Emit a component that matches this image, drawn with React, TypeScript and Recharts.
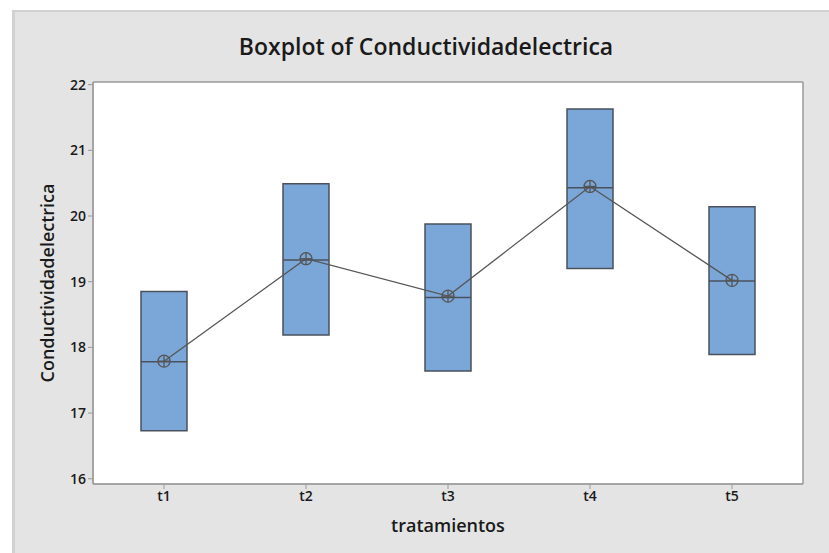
import React from 'react';
import { ComposedChart, Bar, Line, XAxis, YAxis, CartesianGrid } from 'recharts';

const categories = ['t1', 't2', 't3', 't4', 't5'];
const q1Values = [16.73, 18.19, 17.64, 19.2, 17.89];
const q3Values = [18.85, 20.49, 19.88, 21.63, 20.14];
const medianValues = [17.78, 19.33, 18.76, 20.43, 19.01];
const meanValues = [17.79, 19.35, 18.78, 20.45, 19.02];
const yTicks = [16, 17, 18, 19, 20, 21, 22];

const data = categories.map((name, i) => ({
  name,
  box: [q1Values[i], q3Values[i]],
  median: medianValues[i],
  mean: meanValues[i],
}));

const FONT = '"Open Sans", "Noto Sans", sans-serif';
const BOX_W = 46;
const EDGE = '#4a515c';

const MedianMark = (props: any) => {
  const { cx, cy, index } = props;
  if (cx == null || cy == null) return <g key={`m${index}`} />;
  return (
    <line key={`m${index}`} x1={cx - BOX_W / 2} x2={cx + BOX_W / 2} y1={cy} y2={cy} stroke={EDGE} strokeWidth={1.5} />
  );
};

const MeanMark = (props: any) => {
  const { cx, cy, index } = props;
  if (cx == null || cy == null) return <g key={`a${index}`} />;
  const r = 6;
  return (
    <g key={`a${index}`}>
      <circle cx={cx} cy={cy} r={r} fill="none" stroke="#555" strokeWidth={1.3} />
      <line x1={cx - r} x2={cx + r} y1={cy} y2={cy} stroke="#555" strokeWidth={1.3} />
      <line x1={cx} x2={cx} y1={cy - r} y2={cy + r} stroke="#555" strokeWidth={1.3} />
    </g>
  );
};

export default function App() {
  return (
    <div style={{ position: 'absolute', left: 0, top: 0, width: 829, height: 553, background: '#fff', overflow: 'hidden' }}>
      <div
        style={{
          position: 'absolute',
          left: 12,
          top: 10,
          width: 817,
          height: 543,
          background: '#e4e4e4',
          borderTop: '2px solid #d2d2d2',
          borderLeft: '3px solid #d2d2d2',
          boxSizing: 'border-box',
        }}
      />
      <div
        style={{
          position: 'absolute',
          left: 0,
          top: 30,
          width: 852,
          textAlign: 'center',
          fontFamily: FONT,
          fontWeight: 600,
          fontSize: 23,
          lineHeight: '32px',
          color: '#1a1a1a',
        }}
      >
        Boxplot of Conductividadelectrica
      </div>
      <div style={{ position: 'absolute', left: 0, top: 0 }}>
        <ComposedChart
          width={829}
          height={553}
          data={data}
          margin={{ top: 82, right: 26, bottom: 0, left: 1 }}
        >
          <CartesianGrid
            fill="#ffffff"
            stroke="#9a9a9a"
            strokeWidth={1.5}
            horizontalCoordinatesGenerator={({ offset }: any) => [offset.top, offset.top + offset.height]}
            verticalCoordinatesGenerator={({ offset }: any) => [offset.left, offset.left + offset.width]}
          />
          <XAxis
            dataKey="name"
            type="category"
            height={69}
            axisLine={{ stroke: '#9a9a9a' }}
            tickLine={{ stroke: '#9a9a9a' }}
            tickSize={5}
            tick={{ fontFamily: FONT, fontSize: 14, fontWeight: 600, fill: '#1a1a1a' }}
            label={{
              value: 'tratamientos',
              position: 'center',
              dy: 7,
              style: { fontFamily: FONT, fontSize: 18, fontWeight: 600, fill: '#1a1a1a' },
            }}
          />
          <YAxis
            type="number"
            domain={[15.92, 22.04]}
            ticks={yTicks}
            allowDataOverflow
            width={92}
            axisLine={{ stroke: '#9a9a9a' }}
            tickLine={{ stroke: '#9a9a9a' }}
            tickSize={5}
            tick={{ fontFamily: FONT, fontSize: 14, fontWeight: 600, fill: '#1a1a1a' }}
            label={{
              value: 'Conductividadelectrica',
              angle: -90,
              position: 'center',
              dx: 1,
              style: { fontFamily: FONT, fontSize: 18, fontWeight: 600, fill: '#1a1a1a', textAnchor: 'middle' },
            }}
          />
          <Bar dataKey="box" barSize={BOX_W} fill="#7ba6d8" stroke={EDGE} strokeWidth={1.5} isAnimationActive={false} />
          <Line
            dataKey="median"
            stroke="none"
            dot={MedianMark}
            activeDot={false}
            isAnimationActive={false}
            legendType="none"
          />
          <Line
            dataKey="mean"
            stroke="#555"
            strokeWidth={1.3}
            dot={MeanMark}
            activeDot={false}
            isAnimationActive={false}
          />
        </ComposedChart>
      </div>
    </div>
  );
}
